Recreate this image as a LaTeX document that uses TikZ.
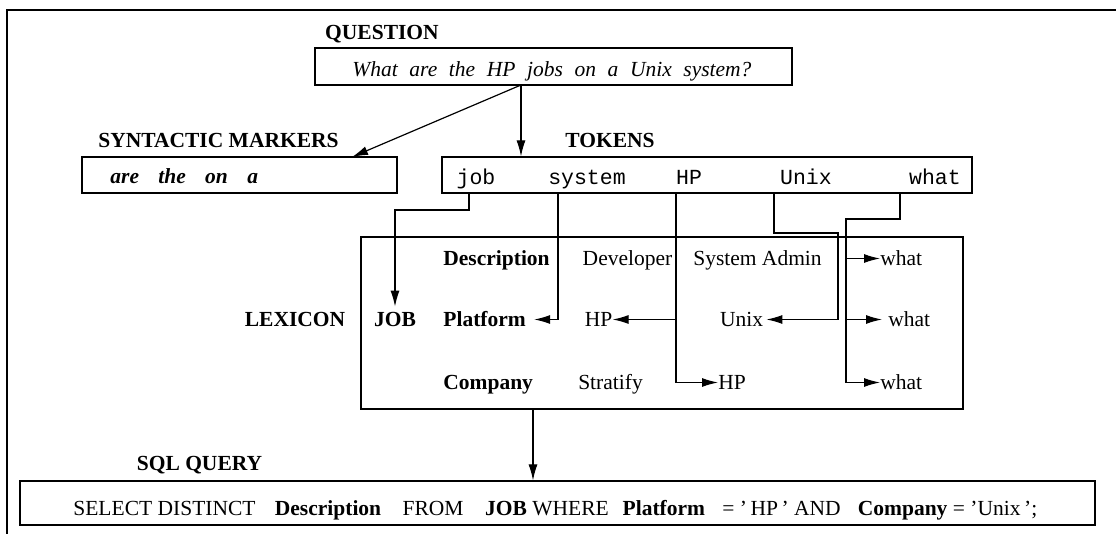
\documentclass[tikz,border=0pt]{standalone}
\usepackage{fontspec}
\setmainfont{Liberation Serif}
\setmonofont{Liberation Mono}
\usetikzlibrary{arrows.meta}
\newcommand\figfont{\fontsize{10.75}{13}\selectfont}
\newcommand\gaps[1]{\spaceskip=#1\relax}
\begin{document}
\begin{tikzpicture}[x=.5pt, y=-.5pt, >={Latex[length=8pt,width=4.5pt]},
	txt/.style={inner sep=0pt, text height=.75em, text depth=0pt, anchor=base, font=\figfont},
	head/.style={txt, font=\figfont\bfseries},
	tok/.style={txt, font=\figfont\ttfamily},
	box/.style={draw, line width=.6pt, inner sep=0pt},
	link/.style={->, line width=.6pt}]
	\useasboundingbox (0,0) rectangle (1116,534);
	\draw[line width=1pt] (7,534) -- (7,10) -- (1116,10);
	\path
		(521,85) coordinate (qout)
		(352,157) coordinate (smin)
		(469,193) coordinate (cjob)
		(558,193) coordinate (csys)
		(676,193) coordinate (chp)
		(774,193) coordinate (cunix)
		(900,193) coordinate (cwhat)
		(838,233) coordinate (ubend)
		(846,219) coordinate (wbend)
		(533,409) coordinate (lexout)
	;
	\node[head] (qlabel) at (382,40) {QUESTION};
	\node[box, minimum width=238.5pt, minimum height=18.5pt] (qbox) at (553.5,66.5) {};
	\node[txt] (qtext) at (552,77) {\itshape\gaps{.54em}What are the HP jobs on a Unix system?};
	\node[head] (smlabel) at (218.5,148) {SYNTACTIC MARKERS};
	\node[box, minimum width=157.5pt, minimum height=18pt] (smbox) at (239.5,175) {};
	\node[txt, anchor=base west] (smtext) at (110,184) {\bfseries\itshape\gaps{.9em}are the on a};
	\node[head] (toklabel) at (610,148) {TOKENS};
	\node[box, minimum width=265pt, minimum height=18pt] (tokbox) at (707,175) {};
	\foreach \t/\x in {job/476, system/587, HP/689, Unix/806, what/935}
		\node[tok] (t\t) at (\x,185) {\t};
	\node[box, line width=1pt, minimum width=301pt, minimum height=86pt] (lexbox) at (662,323) {};
	\node[head] (lexlabel) at (295,327) {LEXICON};
	\node[head] (ljob) at (395,327) {JOB};
	\node[head, anchor=base west] (ldesc) at (443,266) {Description};
	\node[head, anchor=base west] (lplat) at (443,327) {Platform};
	\node[head, anchor=base west] (lcomp) at (443,390) {Company};
	\node[txt] (ldev) at (627.5,266) {Developer};
	\node[txt] (lsys) at (757.5,266) {System Admin};
	\node[txt] (lhpa) at (598.5,327) {HP};
	\node[txt] (lunix) at (741.5,327) {Unix};
	\node[txt] (lstrat) at (610.5,390) {Stratify};
	\node[txt, anchor=base west] (lhpb) at (718,390) {HP};
	\node[txt, anchor=base west] (lwhata) at (880,266) {what};
	\node[txt, anchor=base west] (lwhatb) at (888,327) {what};
	\node[txt, anchor=base west] (lwhatc) at (880,390) {what};
	\node[head] (sqllabel) at (199.5,471) {SQL QUERY};
	\node[box, minimum width=537.5pt, minimum height=22pt] (sqlbox) at (557.5,503) {};
	\node[txt, anchor=base west] (sqltext) at (73,516) {SELECT DISTINCT\hspace{.9em}\textbf{Description}\hspace{1em}FROM\hspace{1em}\textbf{JOB} WHERE\hspace{.65em}\textbf{Platform}\hspace{.8em}= '\,HP\,' AND\hspace{.8em}\textbf{Company} = 'Unix\,';};
	\draw[link] (qout) -- (smin);
	\draw[link] (qout) -- (qout |- tokbox.north);
	\draw[link, shorten >=2.5pt] (cjob) -- ++(0,17) -| (ljob.north);
	\draw[link, shorten >=4pt] (csys) |- (lplat.east);
	\draw[link] (chp) |- (lhpb.west);
	\draw[link] (chp |- lhpa) -- (lhpa.east);
	\draw[link, shorten >=1.5pt] (cunix) |- (ubend) |- (lunix.east);
	\draw[link] (cwhat) |- (wbend) |- (lwhatc.west);
	\draw[link] (wbend |- lwhata) -- (lwhata.west);
	\draw[link, shorten >=3pt] (wbend |- lwhatb) -- (lwhatb.west);
	\draw[link] (lexout) -- (lexout |- sqlbox.north);
\end{tikzpicture}
\end{document}
